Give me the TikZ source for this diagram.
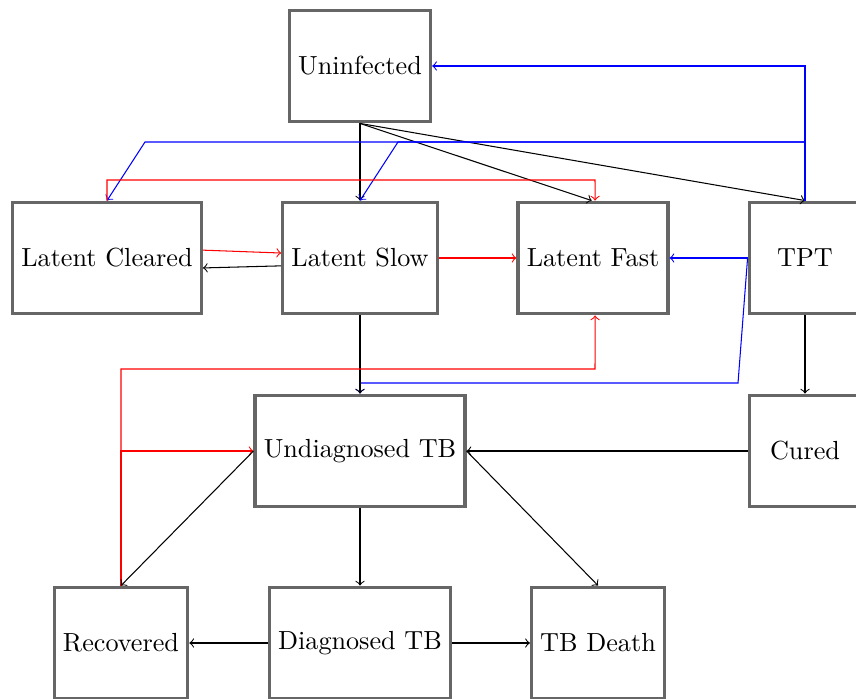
\documentclass[tikz,border=0pt]{standalone}
\begin{document}
\begin{tikzpicture}[x=0.382pt,y=-0.382pt,
  state/.style={draw=black!60,very thick,minimum height=1.5cm,minimum width=1.5cm,inner sep=0.3333em,fill=white},
  arr/.style={->,thin},
  redarr/.style={->,thin,red},
  bluearr/.style={->,thin,blue}]
\useasboundingbox (0,0) rectangle (856,699);
\clip (0,0) rectangle (856,699);
\node[state] (U) at (360,66) {Uninfected};
\node[state] (LC) at (107,258) {Latent Cleared};
\node[state] (LS) at (360,258) {Latent Slow};
\node[state] (LF) at (593,258) {Latent Fast};
\node[state] (TPT) at (805,258) {TPT};
\node[state] (UD) at (360,451) {Undiagnosed TB};
\node[state] (CU) at (805,451) {Cured};
\node[state] (R) at (121,643) {Recovered};
\node[state] (DT) at (360,643) {Diagnosed TB};
\node[state] (TD) at (598,643) {TB Death};
\coordinate (b1) at (145,142);
\coordinate (b2) at (398,142);
\coordinate (b3) at (805,142);
\coordinate (r1) at (107,180);
\coordinate (r2) at (595,180);
\coordinate (b4) at (738,383);
\coordinate (b5) at (360,383);
\coordinate (r3) at (121,369);
\coordinate (r4) at (595,369);
% black from Uninfected
\draw[arr] (U.south) -- (LS.north);
\draw[arr] (U.south) -- ([xshift=-0.5pt]LF.north);
\draw[arr] (U.south) -- (TPT.north);
% blue from TPT
\draw[bluearr] (TPT.north) |- (U.east);
\draw[bluearr] (TPT.north) -- (b3) -- (b1) -- (LC.north);
\draw[bluearr] (b3) -- (b2) -- (LS.north);
\draw[bluearr] (TPT.west) -- (LF.east);
\draw[bluearr] (TPT.west) -- (b4) -- (b5) -- (UD.north);
% red
\draw[redarr] (LC.north) -- (r1) -- (r2) -- ([xshift=0.8pt]LF.north);
\draw[redarr] ([yshift=3pt]LC.east) -- ([yshift=1.9pt]LS.west);
\draw[arr] ([yshift=-3pt]LS.west) -- ([yshift=-3.8pt]LC.east);
\draw[redarr] (LS.east) -- (LF.west);
\draw[arr] (LS.south) -- (UD.north);
\draw[arr] (TPT.south) -- (CU.north);
\draw[arr] (CU.west) -- (UD.east);
\draw[redarr] (R.north) -- (r3) -- (r4) -- ([xshift=0.8pt]LF.south);
\draw[redarr] (R.north) |- (UD.west);
\draw[arr] (UD.west) -- (R.north);
\draw[arr] (UD.east) -- (TD.north);
\draw[arr] (UD.south) -- (DT.north);
\draw[arr] (DT.west) -- (R.east);
\draw[arr] (DT.east) -- (TD.west);
\end{tikzpicture}
\end{document}
